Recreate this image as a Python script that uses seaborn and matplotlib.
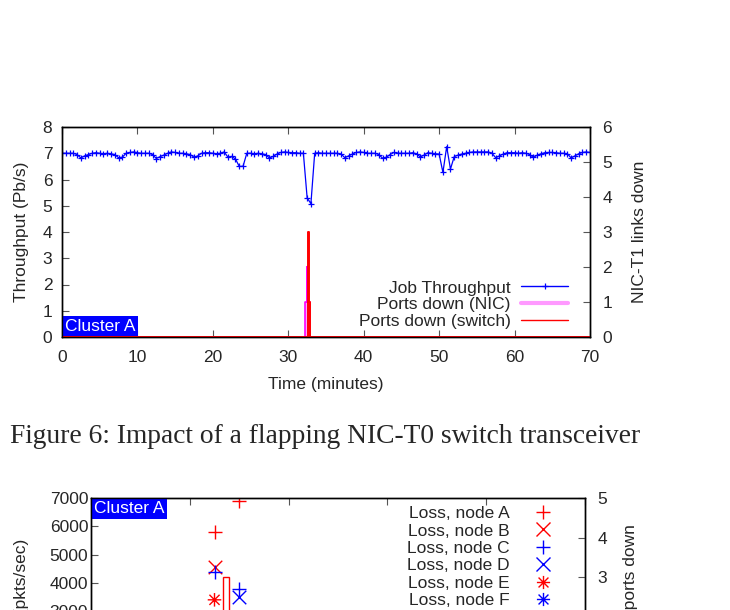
import matplotlib
matplotlib.use("Agg")

import matplotlib.pyplot as plt
import seaborn as sns
from matplotlib.lines import Line2D
from matplotlib.path import Path

# Setup
sns.set_theme(style="white", rc={"axes.edgecolor": "black", "axes.linewidth": 1.0})
plt.rcParams["font.family"] = ["Liberation Sans", "DejaVu Sans"]

FS = 12.5

# ---------------- Figure 6 data ----------------
sample_step = 0.5  # minutes between throughput samples
throughput = [
    7.00, 7.00, 7.00, 7.00, 6.95, 6.82, 6.90, 6.95, 7.00, 7.02,
    7.00, 6.98, 7.00, 6.98, 6.95, 6.83, 6.85, 7.00, 7.03, 7.05,
    7.02, 7.00, 7.00, 7.00, 6.95, 6.80, 6.87, 6.93, 7.00, 7.05,
    7.03, 7.00, 7.00, 6.98, 6.95, 6.85, 6.90, 7.00, 7.02, 7.02,
    7.00, 6.98, 7.00, 7.05, 6.85, 6.88, 6.78, 6.50, 6.50, 7.00,
    7.00, 6.98, 7.00, 6.98, 6.95, 6.82, 6.88, 6.97, 7.03, 7.05,
    7.03, 7.02, 7.02, 7.00, 7.00, 5.30, 5.08, 7.00, 7.02, 7.00,
    7.00, 7.00, 7.00, 7.00, 6.97, 6.83, 6.90, 6.97, 7.03, 7.05,
    7.03, 7.00, 7.00, 7.00, 6.95, 6.81, 6.85, 6.95, 7.03, 7.00,
    7.00, 7.00, 7.00, 7.02, 6.98, 6.86, 6.93, 7.02, 7.00, 6.98,
    6.97, 6.27, 7.25, 6.40, 6.87, 6.93, 6.97, 7.00, 7.03, 7.05,
    7.05, 7.05, 7.05, 7.05, 7.00, 6.83, 6.90, 6.97, 7.02, 7.02,
    7.02, 7.00, 7.02, 7.00, 6.95, 6.84, 6.93, 6.98, 7.02, 7.03,
    7.03, 7.02, 7.00, 7.00, 6.98, 6.82, 6.90, 6.98, 7.03, 7.05,
    7.03,
]
minutes = [i * sample_step for i in range(len(throughput))]

nic_minutes = [0, 32.2, 32.45, 32.52, 32.9, 70]
nic_down = [0, 1, 2, 1, 0, 0]
switch_minutes = [0, 32.62, 32.7, 32.9, 70]
switch_down = [0, 3, 1, 0, 0]

# ---------------- Figure 7 data (partly visible) ----------------
loss_a_t, loss_a = [12.5, 15.0], [5800, 6900]
loss_b_t, loss_b = [12.5], [4550]
loss_c_t, loss_c = [12.5, 15.0], [4400, 3800]
loss_d_t, loss_d = [15.0], [3500]
loss_e_t, loss_e = [12.5], [3400]
ports_t, ports_down = [13.65], [3]

fig = plt.figure(figsize=(7.3, 6.1), dpi=100)


def px_axes(left, top, right, bottom):
    W, H = 730.0, 610.0
    return fig.add_axes([left / W, 1 - bottom / H, (right - left) / W, (bottom - top) / H])


def cluster_tag(ax, loc):
    ax.annotate("Cluster A", xy=loc, xycoords="axes fraction",
                xytext=(2.5, 2.5 if loc[1] == 0 else -2.5), textcoords="offset points",
                va="bottom" if loc[1] == 0 else "top", ha="left",
                color="white", fontsize=FS, zorder=10,
                bbox=dict(boxstyle="square,pad=0.14", fc="#0000ff", ec="none"))


# ======== Top chart ========
ax = px_axes(62, 127, 590, 337)
ax2 = ax.twinx()

sns.lineplot(x=minutes, y=throughput, ax=ax, color="#0000ff", lw=0.9,
             marker="+", markersize=5, markeredgewidth=0.9, markeredgecolor="#0000ff")

ax2.fill_between(nic_minutes, nic_down, step="post", color="#ff00ff", alpha=0.35, lw=0)
sns.lineplot(x=nic_minutes, y=nic_down, ax=ax2, drawstyle="steps-post",
             color="#ff00ff", lw=1.2)
ax2.fill_between(switch_minutes, switch_down, step="post", color="#ff0000", alpha=0.3, lw=0)
sns.lineplot(x=switch_minutes, y=switch_down, ax=ax2, drawstyle="steps-post",
             color="#ff0000", lw=1.4)

ax.set_xlim(0, 70)
ax.set_ylim(0, 8)
ax2.set_ylim(0, 6)
ax.set_xticks(range(0, 71, 10))
ax.set_yticks(range(0, 9))
ax2.set_yticks(range(0, 7))
ax.tick_params(axis="x", direction="in", bottom=True, top=True, length=5, width=0.8,
               pad=9, labelsize=FS, color="#555555")
ax.tick_params(axis="y", direction="in", left=True, right=False, length=5, width=0.8,
               pad=7, labelsize=FS, color="#555555")
ax2.tick_params(axis="y", direction="in", right=True, length=5, width=0.8,
                pad=9, labelsize=FS, color="#555555")
ax.set_xlabel("Time (minutes)", fontsize=FS, labelpad=9)
ax.set_ylabel("Throughput (Pb/s)", fontsize=FS, labelpad=10)
ax2.set_ylabel("NIC-T1 links down", fontsize=FS, labelpad=14)

handles = [
    Line2D([], [], color="#0000ff", lw=1, marker="+", markersize=5, markeredgewidth=0.9),
    Line2D([], [], color="#ff00ff", lw=3, alpha=0.4),
    Line2D([], [], color="#ff0000", lw=1),
]
labels = ["Job Throughput", "Ports down (NIC)", "Ports down (switch)"]
ax2.legend(handles, labels, loc="lower right", bbox_to_anchor=(568 / 730, 1 - 329 / 610),
           bbox_transform=fig.transFigure, frameon=False, markerfirst=False,
           fontsize=FS, handlelength=2.7, handletextpad=0.6, labelspacing=0.09,
           borderpad=0, borderaxespad=0, numpoints=1)
cluster_tag(ax, (0, 0))

fig.text(10 / 730, 1 - 443 / 610, "Figure 6: Impact of a flapping NIC-T0 switch transceiver",
         family=["Liberation Serif", "DejaVu Serif"], fontsize=19.8, va="baseline")

# ======== Bottom chart ========
ax3 = px_axes(91, 498, 585, 696)
ax4 = ax3.twinx()

star = Path([(-1, 0), (1, 0), (0, -1), (0, 1), (-0.75, -0.75), (0.75, 0.75), (-0.75, 0.75), (0.75, -0.75)],
            [Path.MOVETO, Path.LINETO] * 4)

line_series = [
    (loss_a_t, loss_a, "+", "#ff0000"),
    (loss_b_t, loss_b, "x", "#ff0000"),
    (loss_c_t, loss_c, "+", "#0000ff"),
    (loss_d_t, loss_d, "x", "#0000ff"),
]
for t, v, mk, col in line_series:
    sns.scatterplot(x=t, y=v, ax=ax3, marker=mk, s=95, color=col, linewidth=1.0)
sns.scatterplot(x=loss_e_t, y=loss_e, ax=ax3, marker=star, s=95, facecolor="none",
                edgecolor="#ff0000", linewidth=1.0)

ax4.bar(ports_t, ports_down, width=0.6, fill=False, edgecolor="#ff0000", linewidth=1.0)

ax3.set_xlim(0, 50)
ax3.set_ylim(0, 7000)
ax4.set_ylim(0, 5)
ax3.set_xticks(range(0, 51, 10))
ax3.set_yticks(range(0, 7001, 1000))
ax4.set_yticks(range(0, 6))
ax3.tick_params(axis="x", direction="in", bottom=True, top=True, length=5, width=0.8,
                labelsize=FS, color="#555555")
ax3.tick_params(axis="y", direction="in", left=True, right=False, length=5, width=0.8,
                pad=2, labelsize=FS, color="#555555")
ax4.tick_params(axis="y", direction="in", right=True, length=5, width=0.8,
                pad=9, labelsize=FS, color="#555555")
ax3.set_ylabel("Loss (pkts/sec)", fontsize=FS, labelpad=15)
ax4.set_ylabel("NIC-T0 ports down", fontsize=FS, labelpad=11)

loss_handles = [
    Line2D([], [], ls="none", marker="+", color="#ff0000", markersize=9.5, markeredgewidth=1),
    Line2D([], [], ls="none", marker="x", color="#ff0000", markersize=9.5, markeredgewidth=1),
    Line2D([], [], ls="none", marker="+", color="#0000ff", markersize=9.5, markeredgewidth=1),
    Line2D([], [], ls="none", marker="x", color="#0000ff", markersize=9.5, markeredgewidth=1),
    Line2D([], [], ls="none", marker=star, color="#ff0000", markerfacecolor="none",
           markersize=9.5, markeredgewidth=1),
    Line2D([], [], ls="none", marker=star, color="#0000ff", markerfacecolor="none",
           markersize=9.5, markeredgewidth=1),
]
loss_labels = ["Loss, node A", "Loss, node B", "Loss, node C",
               "Loss, node D", "Loss, node E", "Loss, node F"]
ax4.legend(loss_handles, loss_labels, loc="upper right", bbox_to_anchor=(560 / 730, 1 - 506 / 610),
           bbox_transform=fig.transFigure, frameon=False, markerfirst=False,
           fontsize=FS, handlelength=2.0, handletextpad=0.9, labelspacing=0.13,
           borderpad=0, borderaxespad=0, numpoints=1)
cluster_tag(ax3, (0, 1))

fig.savefig("out.png", dpi=100)
